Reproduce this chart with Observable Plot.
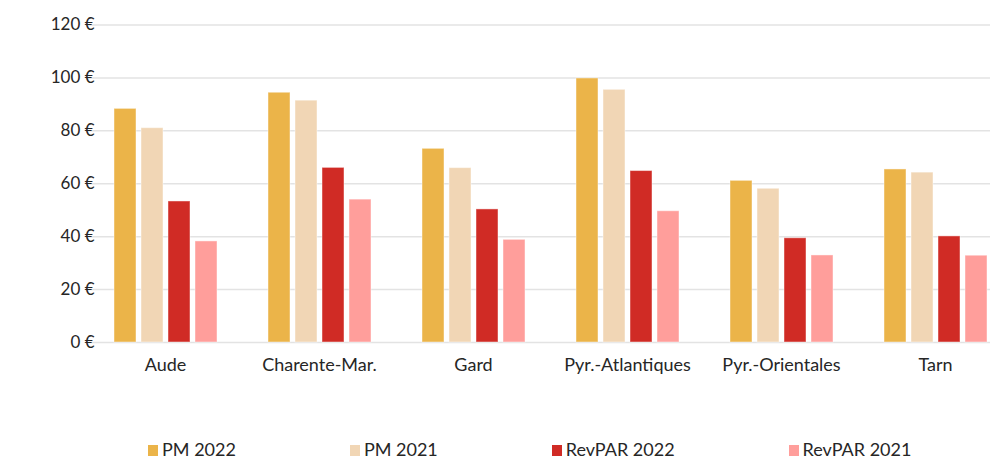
<!DOCTYPE html>
<html>
<head>
<meta charset="utf-8">
<script src="https://cdn.jsdelivr.net/npm/d3@7"></script>
<script src="https://cdn.jsdelivr.net/npm/@observablehq/plot@0.6"></script>
<style>
  html, body { margin: 0; padding: 0; background: #fff; overflow: hidden; }
  body { font-family: Lato, "Open Sans", sans-serif; color: #262626; }
  #chart { position: relative; width: 990px; height: 420px; }
  #chart svg { position: absolute; left: 0; top: 0; }
  #legend { display: flex; gap: 114px; padding-left: 148px; margin-top: 22px; font-size: 18px; line-height: 14px; height: 14px; white-space: nowrap; }
  #legend .item { display: flex; align-items: flex-start; }
  #legend .sw { width: 10px; height: 11px; margin-right: 4px; margin-top: 3px; }
</style>
</head>
<body>
<div id="chart"></div>
<div id="legend"></div>
<script>
const regions = ["Aude", "Charente-Mar.", "Gard", "Pyr.-Atlantiques", "Pyr.-Orientales", "Tarn"];
const series = ["PM 2022", "PM 2021", "RevPAR 2022", "RevPAR 2021"];
const pm2022 = [88.3, 94.4, 73.2, 99.8, 61.1, 65.4];
const pm2021 = [81.0, 91.4, 65.9, 95.5, 58.1, 64.2];
const revpar2022 = [53.3, 66.0, 50.3, 64.8, 39.4, 40.1];
const revpar2021 = [38.2, 54.0, 38.8, 49.6, 32.9, 32.8];
const colors = ["#EBB449", "#F1D6B5", "#D02B25", "#FF9E9B"];
const yTicks = [0, 20, 40, 60, 80, 100, 120];

const values = [pm2022, pm2021, revpar2022, revpar2021];
const data = regions.flatMap((r, i) => series.map((s, j) => ({region: r, series: s, value: values[j][i]})));

const common = {
  width: 990,
  height: 420,
  marginLeft: 86,
  marginRight: 0,
  marginTop: 24.5,
  marginBottom: 78,
  y: {domain: [0, 120], axis: null}
};

// background grid layer (full width, shares the same y scale settings)
const grid = Plot.plot({
  ...common,
  style: {fontFamily: "Lato, sans-serif", background: "#fff", overflow: "visible"},
  x: {axis: null},
  marks: [
    Plot.ruleY(yTicks, {stroke: "#e3e3e3", strokeWidth: 1.5})
  ]
});

const chart = Plot.plot({
  ...common,
  style: {fontFamily: "Lato, sans-serif", color: "#262626", background: "transparent", overflow: "visible"},
  fx: {domain: regions, range: [86, 1013], paddingInner: 0.312, paddingOuter: 0.162, label: null},
  x: {domain: series, paddingInner: 0.19, paddingOuter: 0, axis: null},
  color: {domain: series, range: colors},
  marks: [
    Plot.barY(data, {fx: "region", x: "series", y: "value", fill: "series", stroke: "#ffffff", strokeOpacity: 0.45, strokeWidth: 1}),
    Plot.axisY(yTicks, {tickSize: 0, tickPadding: 18, tickFormat: d => `${d} €`, fontSize: 17, label: null}),
    Plot.axisFx({anchor: "bottom", tickSize: 0, tickPadding: 16, fontSize: 18, label: null})
  ]
});
const holder = document.getElementById("chart");
holder.appendChild(grid);
holder.appendChild(chart);

const legend = document.getElementById("legend");
series.forEach((s, i) => {
  const item = document.createElement("div");
  item.className = "item";
  const sw = document.createElement("span");
  sw.className = "sw";
  sw.style.background = colors[i];
  const t = document.createElement("span");
  t.textContent = s;
  item.appendChild(sw);
  item.appendChild(t);
  legend.appendChild(item);
});
</script>
</body>
</html>
